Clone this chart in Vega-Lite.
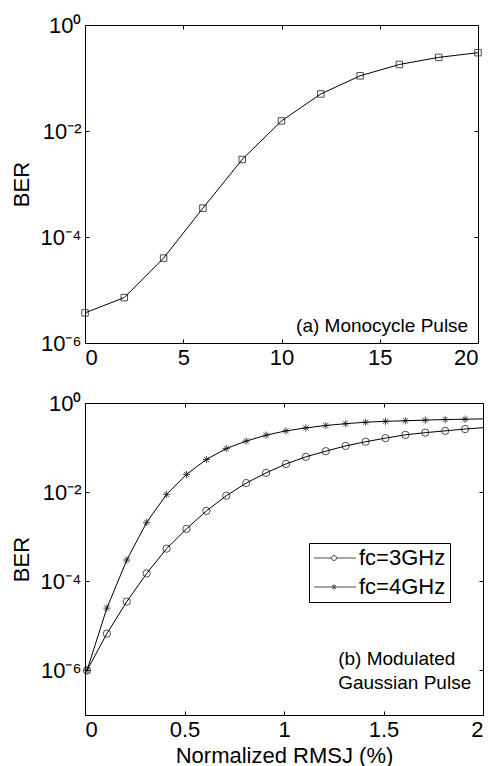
{
  "$schema": "https://vega.github.io/schema/vega-lite/v6.json",
  "padding": {"left": 9, "top": 13, "right": 4, "bottom": 1},
  "spacing": 22,
  "config": {
    "font": "Liberation Sans",
    "view": {"stroke": "black", "strokeWidth": 1},
    "axis": {
      "grid": false,
      "domain": false,
      "tickColor": "black",
      "tickSize": -4,
      "tickWidth": 1,
      "labelColor": "black",
      "labelFontSize": 22,
      "labelPadding": 8,
      "titleFontSize": 22,
      "titleFontWeight": "normal",
      "titleColor": "black"
    }
  },
  "resolve": {"scale": {"shape": "independent"}, "legend": {"shape": "independent"}},
  "vconcat": [
    {
      "width": 393,
      "height": 318,
      "data": {
        "values": [
          {"jitter": 0, "ber": 3.7e-6},
          {"jitter": 2, "ber": 7.2e-6},
          {"jitter": 4, "ber": 4.0e-5},
          {"jitter": 6, "ber": 3.5e-4},
          {"jitter": 8, "ber": 2.9e-3},
          {"jitter": 10, "ber": 1.55e-2},
          {"jitter": 12, "ber": 5.0e-2},
          {"jitter": 14, "ber": 0.11},
          {"jitter": 16, "ber": 0.18},
          {"jitter": 18, "ber": 0.245},
          {"jitter": 20, "ber": 0.30}
        ]
      },
      "layer": [
        {
          "mark": {"type": "line", "color": "black", "strokeWidth": 1},
          "encoding": {
            "x": {
              "field": "jitter", "type": "quantitative",
              "scale": {"domain": [0, 20], "nice": false},
              "axis": {"values": [0, 5, 10, 15, 20], "title": null}
            },
            "y": {
              "field": "ber", "type": "quantitative",
              "scale": {"type": "log", "domain": [1e-6, 1]},
              "axis": {
                "values": [1e-6, 1e-4, 1e-2, 1],
                "labelExpr": "datum.value > 0.5 ? '10⁰' : datum.value > 0.005 ? '10⁻²' : datum.value > 0.00005 ? '10⁻⁴' : '10⁻⁶'",
                "title": "BER",
                "titlePadding": 7
              }
            }
          }
        },
        {
          "mark": {"type": "point", "shape": "square", "filled": false, "color": "black", "size": 42, "strokeWidth": 1},
          "encoding": {
            "x": {
              "field": "jitter", "type": "quantitative",
              "axis": {"orient": "top", "values": [0, 5, 10, 15, 20], "labels": false, "title": null}
            },
            "y": {
              "field": "ber", "type": "quantitative",
              "axis": {"orient": "right", "values": [1e-6, 1e-4, 1e-2, 1], "labels": false, "title": null}
            }
          }
        },
        {
          "data": {"values": [{"note": "(a) Monocycle Pulse"}]},
          "mark": {"type": "text", "align": "right", "baseline": "middle", "fontSize": 19, "color": "black"},
          "encoding": {
            "x": {"datum": 19.5, "type": "quantitative", "axis": null},
            "y": {"datum": 2.1e-6, "type": "quantitative", "axis": null},
            "text": {"field": "note", "type": "nominal"}
          }
        }
      ],
      "resolve": {"axis": {"x": "independent", "y": "independent"}}
    },
    {
      "width": 398,
      "height": 312,
      "data": {
        "values": [
          {"rmsj": 0.01, "ber": 1.0e-6, "pulse": "fc=3GHz"},
          {"rmsj": 0.11, "ber": 6.7e-6, "pulse": "fc=3GHz"},
          {"rmsj": 0.21, "ber": 3.5e-5, "pulse": "fc=3GHz"},
          {"rmsj": 0.31, "ber": 1.5e-4, "pulse": "fc=3GHz"},
          {"rmsj": 0.41, "ber": 5.4e-4, "pulse": "fc=3GHz"},
          {"rmsj": 0.51, "ber": 1.5e-3, "pulse": "fc=3GHz"},
          {"rmsj": 0.61, "ber": 3.8e-3, "pulse": "fc=3GHz"},
          {"rmsj": 0.71, "ber": 8.3e-3, "pulse": "fc=3GHz"},
          {"rmsj": 0.81, "ber": 1.6e-2, "pulse": "fc=3GHz"},
          {"rmsj": 0.91, "ber": 2.7e-2, "pulse": "fc=3GHz"},
          {"rmsj": 1.01, "ber": 4.3e-2, "pulse": "fc=3GHz"},
          {"rmsj": 1.11, "ber": 6.2e-2, "pulse": "fc=3GHz"},
          {"rmsj": 1.21, "ber": 8.3e-2, "pulse": "fc=3GHz"},
          {"rmsj": 1.31, "ber": 0.109, "pulse": "fc=3GHz"},
          {"rmsj": 1.41, "ber": 0.135, "pulse": "fc=3GHz"},
          {"rmsj": 1.51, "ber": 0.163, "pulse": "fc=3GHz"},
          {"rmsj": 1.61, "ber": 0.193, "pulse": "fc=3GHz"},
          {"rmsj": 1.71, "ber": 0.216, "pulse": "fc=3GHz"},
          {"rmsj": 1.81, "ber": 0.237, "pulse": "fc=3GHz"},
          {"rmsj": 1.91, "ber": 0.26, "pulse": "fc=3GHz"},
          {"rmsj": 2.0, "ber": 0.28, "pulse": "fc=3GHz"},
          {"rmsj": 0.01, "ber": 1.0e-6, "pulse": "fc=4GHz"},
          {"rmsj": 0.11, "ber": 2.5e-5, "pulse": "fc=4GHz"},
          {"rmsj": 0.21, "ber": 3.0e-4, "pulse": "fc=4GHz"},
          {"rmsj": 0.31, "ber": 2.1e-3, "pulse": "fc=4GHz"},
          {"rmsj": 0.41, "ber": 8.9e-3, "pulse": "fc=4GHz"},
          {"rmsj": 0.51, "ber": 2.5e-2, "pulse": "fc=4GHz"},
          {"rmsj": 0.61, "ber": 5.4e-2, "pulse": "fc=4GHz"},
          {"rmsj": 0.71, "ber": 9.5e-2, "pulse": "fc=4GHz"},
          {"rmsj": 0.81, "ber": 0.14, "pulse": "fc=4GHz"},
          {"rmsj": 0.91, "ber": 0.19, "pulse": "fc=4GHz"},
          {"rmsj": 1.01, "ber": 0.237, "pulse": "fc=4GHz"},
          {"rmsj": 1.11, "ber": 0.276, "pulse": "fc=4GHz"},
          {"rmsj": 1.21, "ber": 0.313, "pulse": "fc=4GHz"},
          {"rmsj": 1.31, "ber": 0.343, "pulse": "fc=4GHz"},
          {"rmsj": 1.41, "ber": 0.371, "pulse": "fc=4GHz"},
          {"rmsj": 1.51, "ber": 0.388, "pulse": "fc=4GHz"},
          {"rmsj": 1.61, "ber": 0.40, "pulse": "fc=4GHz"},
          {"rmsj": 1.71, "ber": 0.413, "pulse": "fc=4GHz"},
          {"rmsj": 1.81, "ber": 0.426, "pulse": "fc=4GHz"},
          {"rmsj": 1.91, "ber": 0.433, "pulse": "fc=4GHz"},
          {"rmsj": 2.0, "ber": 0.44, "pulse": "fc=4GHz"}
        ]
      },
      "layer": [
        {
          "mark": {"type": "line", "color": "black", "strokeWidth": 1},
          "encoding": {
            "x": {
              "field": "rmsj", "type": "quantitative",
              "scale": {"domain": [0, 2], "nice": false},
              "axis": {"values": [0, 0.5, 1, 1.5, 2], "format": "~g", "title": "Normalized RMSJ (%)", "titlePadding": 5}
            },
            "y": {
              "field": "ber", "type": "quantitative",
              "scale": {"type": "log", "domain": [5e-7, 1]},
              "axis": {
                "values": [1e-6, 1e-4, 1e-2, 1],
                "labelExpr": "datum.value > 0.5 ? '10⁰' : datum.value > 0.005 ? '10⁻²' : datum.value > 0.00005 ? '10⁻⁴' : '10⁻⁶'",
                "title": "BER",
                "titlePadding": 7
              }
            },
            "detail": {"field": "pulse", "type": "nominal"}
          }
        },
        {
          "transform": [{"filter": "datum.rmsj < 1.95"}],
          "mark": {"type": "point", "filled": false, "color": "black", "size": 53, "strokeWidth": 1},
          "encoding": {
            "x": {
              "field": "rmsj", "type": "quantitative",
              "axis": {"orient": "top", "values": [0, 0.5, 1, 1.5, 2], "labels": false, "title": null}
            },
            "y": {
              "field": "ber", "type": "quantitative",
              "axis": {"orient": "right", "values": [1e-6, 1e-4, 1e-2, 1], "labels": false, "title": null}
            },
            "shape": {
              "field": "pulse", "type": "nominal",
              "scale": {
                "domain": ["fc=3GHz", "fc=4GHz"],
                "range": ["circle", "M-1,0L1,0M0,-1L0,1M-0.7,-0.7L0.7,0.7M-0.7,0.7L0.7,-0.7"]
              },
              "legend": null
            }
          }
        },
        {
          "transform": [{"filter": "datum.rmsj > 100"}],
          "mark": {"type": "point", "filled": false, "color": "black", "strokeWidth": 1},
          "encoding": {
            "x": {"field": "rmsj", "type": "quantitative", "axis": null},
            "y": {"field": "ber", "type": "quantitative", "axis": null},
            "shape": {
              "field": "pulse", "type": "nominal",
              "scale": {
                "domain": ["fc=3GHz", "fc=4GHz"],
                "range": [
                  "M-1,0L0.75,0M1.25,0L3.2,0M0.75,0A0.25,0.25,0,1,0,1.25,0A0.25,0.25,0,1,0,0.75,0",
                  "M-1,0L3.2,0M1,-0.25L1,0.25M0.8,-0.18L1.2,0.18M0.8,0.18L1.2,-0.18"
                ]
              },
              "legend": {
                "title": null,
                "orient": "none",
                "legendX": 224,
                "legendY": 140,
                "strokeColor": "black",
                "fillColor": "white",
                "padding": 4,
                "labelFontSize": 22,
                "labelColor": "black",
                "labelOffset": 24,
                "rowPadding": 7,
                "symbolSize": 400,
                "symbolStrokeWidth": 1,
                "symbolStrokeColor": "black",
                "symbolFillColor": "transparent"
              }
            }
          }
        },
        {
          "data": {"values": [{"note": ["(b) Modulated", "Gaussian Pulse"]}]},
          "mark": {"type": "text", "align": "left", "baseline": "middle", "fontSize": 19, "lineHeight": 24, "color": "black"},
          "encoding": {
            "x": {"datum": 1.272, "type": "quantitative", "axis": null},
            "y": {"datum": 1.77e-6, "type": "quantitative", "axis": null},
            "text": {"field": "note", "type": "nominal"}
          }
        }
      ],
      "resolve": {"axis": {"x": "independent", "y": "independent"}, "scale": {"shape": "independent"}}
    }
  ]
}
